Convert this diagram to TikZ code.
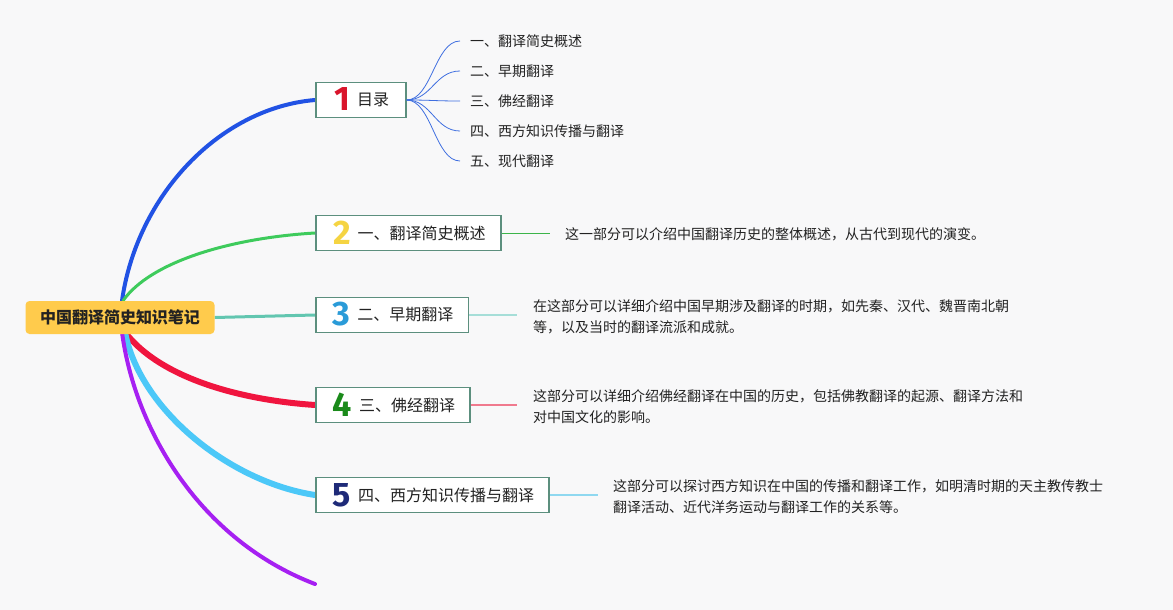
\documentclass[tikz,border=0pt]{standalone}
\usepackage{fontspec}
\setmainfont{Noto Sans CJK SC}
\newfontfamily\numfont{Fira Sans}
\usetikzlibrary{calc}
\pgfdeclarelayer{bg}
\pgfsetlayers{bg,main}
\definecolor{bgc}{HTML}{F8F8F9}
\definecolor{rootc}{HTML}{FFCB4C}
\definecolor{boxb}{HTML}{5C8F7E}
\definecolor{txt}{HTML}{222222}
\definecolor{cblue}{HTML}{2152E4}
\definecolor{cgreen}{HTML}{3ECB5C}
\definecolor{cteal}{HTML}{62C6B0}
\definecolor{cred}{HTML}{F0153F}
\definecolor{ccyan}{HTML}{4CC8F8}
\definecolor{cpurple}{HTML}{A620F2}
\definecolor{csub}{HTML}{3F6FE0}
\definecolor{dgreen}{HTML}{3CB54A}
\definecolor{dteal}{HTML}{A6DED8}
\definecolor{dred}{HTML}{F07A8E}
\definecolor{dcyan}{HTML}{8FD8F0}
\definecolor{n1}{HTML}{D9142B}
\definecolor{n2}{HTML}{F5D442}
\definecolor{n3}{HTML}{2A9BD8}
\definecolor{n4}{HTML}{1A8A1A}
\definecolor{n5}{HTML}{1E2A78}
\newcommand\topicnum[2]{\hspace*{17pt}\smash{\raisebox{-5pt}{\textcolor{#1}{\numfont\fontsize{34}{34}\selectfont\bfseries #2}}}\hspace{7pt}}
\tikzset{
  rootbox/.style={fill=rootc, rounded corners=4pt, minimum width=189pt, minimum height=33pt, inner sep=0pt, text=txt, font=\fontsize{16}{16}\selectfont\bfseries},
  topicbox/.style={draw=boxb, line width=1.6pt, fill=white, anchor=west, minimum height=35pt, inner sep=0pt, text=txt, font=\fontsize{16}{16}\selectfont},
  subtxt/.style={anchor=west, inner sep=0pt, text=txt, font=\fontsize{14}{14}\selectfont},
  desctxt/.style={anchor=west, inner sep=0pt, align=left, text=txt, font=\fontsize{14}{21}\selectfont},
  branch/.style={line cap=round},
  subline/.style={csub, line width=0.8pt},
}
\begin{document}
\begin{tikzpicture}[x=1pt,y=-1pt]
\begin{pgfonlayer}{bg}
\fill[bgc] (0,0) rectangle (1173,610);
\end{pgfonlayer}
\useasboundingbox (0,0) rectangle (1173,610);

% root
\node[rootbox] (root) at (120,317.5) {中国翻译简史知识笔记};

% topic boxes
\node[topicbox, minimum width=90pt] (t1) at (315,100) {\topicnum{n1}{1}目录\hspace*{15pt}};
\node[topicbox, minimum width=185pt] (t2) at (315,233) {\topicnum{n2}{2}一、翻译简史概述\hspace*{15pt}};
\node[topicbox, minimum width=152pt] (t3) at (315,315) {\topicnum{n3}{3}二、早期翻译\hspace*{15pt}};
\node[topicbox, minimum width=152pt] (t4) at (315,405) {\topicnum{n4}{4}三、佛经翻译\hspace*{15pt}};
\node[topicbox, minimum width=233pt] (t5) at (315,495) {\topicnum{n5}{5}四、西方知识传播与翻译\hspace*{15pt}};
\coordinate (pend) at (315,584);

% branches
\begin{pgfonlayer}{bg}
\draw[branch, cblue, line width=4pt] ($(root.north)+(2,0)$) .. controls (137,195) and (220,108) .. (t1.west);
\draw[branch, cgreen, line width=3pt] ($(root.north)+(3,0)$) .. controls (150,262) and (230,238) .. (t2.west);
\draw[cteal, line width=3pt] (root.east) -- (t3.west);
\draw[branch, cred, line width=6pt] ($(root.south)+(5,-2)$) .. controls (160,378) and (240,400) .. (t4.west);
\draw[branch, ccyan, line width=6pt] ($(root.south)+(5,-2)$) .. controls (140,410) and (230,482) .. (t5.west);
\draw[branch, cpurple, line width=4pt] ($(root.south)+(2,-2)$) .. controls (135,430) and (200,540) .. (pend);
\end{pgfonlayer}

% subtopics
\node[subtxt] (s1) at (470,41) {一、翻译简史概述};
\node[subtxt] (s2) at (470,71) {二、早期翻译};
\node[subtxt] (s3) at (470,101) {三、佛经翻译};
\node[subtxt] (s4) at (470,131) {四、西方知识传播与翻译};
\node[subtxt] (s5) at (470,161) {五、现代翻译};
\foreach \s in {s1,s2,s3,s4,s5}{
  \draw[subline] (t1.east) .. controls ($(t1.east)+(25,0)$) and ($(\s.west)+(-35,0)$) .. ($(\s.west)+(-10,0)$);
}

% descriptions
\coordinate (d2) at (550,233);
\coordinate (d3) at (517,315);
\coordinate (d4) at (517,405);
\coordinate (d5) at (598,495);
\draw[dgreen, line width=0.8pt] (t2.east) -- (d2);
\draw[dteal, line width=1.2pt] (t3.east) -- (d3);
\draw[dred, line width=1.2pt] (t4.east) -- (d4);
\draw[dcyan, line width=1.2pt] (t5.east) -- (d5);
\node[desctxt] (e2) at (565,234) {这一部分可以介绍中国翻译历史的整体概述，从古代到现代的演变。};
\node[desctxt] (e3) at (533,316.5) {在这部分可以详细介绍中国早期涉及翻译的时期，如先秦、汉代、魏晋南北朝\\等，以及当时的翻译流派和成就。};
\node[desctxt] (e4) at (533,406.5) {这部分可以详细介绍佛经翻译在中国的历史，包括佛教翻译的起源、翻译方法和\\对中国文化的影响。};
\node[desctxt] (e5) at (613,496.5) {这部分可以探讨西方知识在中国的传播和翻译工作，如明清时期的天主教传教士\\翻译活动、近代洋务运动与翻译工作的关系等。};
\end{tikzpicture}
\end{document}
